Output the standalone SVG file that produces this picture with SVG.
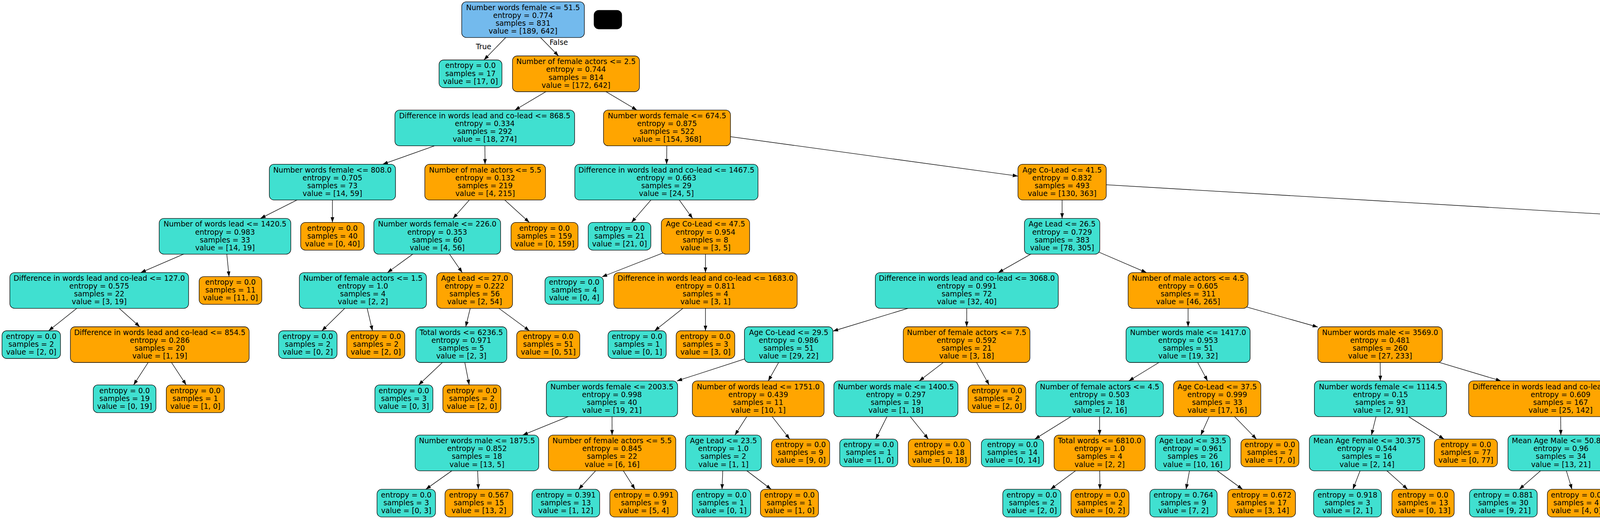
<svg xmlns="http://www.w3.org/2000/svg" width="6587" height="1329" viewBox="0 0 6587 1329">
<style>
text{font-family:"DejaVu Sans",sans-serif;font-size:18.67px;text-anchor:middle;fill:#000}
.n rect{stroke:#000;stroke-width:1.33;rx:12px;ry:12px}
.t rect{fill:#40e0d0}
.o rect{fill:#ffa500}
.b rect{fill:#73baed}
#edges line{stroke:#000;stroke-width:1.33;marker-end:url(#a)}
</style>
<defs>
<marker id="a" markerUnits="userSpaceOnUse" markerWidth="14" markerHeight="10" refX="13.3" refY="4.67" orient="auto"><path d="M0,0L13.3,4.67L0,9.33z" fill="#000"/></marker>
</defs>
<rect width="6587" height="1329" fill="#fff"/>
<g id="edges">
<line x1="1339" y1="50.3" x2="1238.9" y2="153.5"/>
<line x1="1339" y1="50.3" x2="1429.8" y2="143.25"/>
<line x1="1474.5" y1="189" x2="1318" y2="281.95"/>
<line x1="1474.5" y1="189" x2="1630.7" y2="281.95"/>
<line x1="1241" y1="327.7" x2="979.6" y2="420.65"/>
<line x1="1241" y1="327.7" x2="1241.7" y2="420.65"/>
<line x1="1707.5" y1="327.7" x2="1706.5" y2="420.65"/>
<line x1="1707.5" y1="327.7" x2="2606" y2="450.9"/>
<line x1="851" y1="466.4" x2="666.7" y2="559.35"/>
<line x1="851" y1="466.4" x2="851" y2="569.6"/>
<line x1="1242" y1="466.4" x2="1159.8" y2="559.35"/>
<line x1="1242" y1="466.4" x2="1355.1" y2="569.6"/>
<line x1="1706" y1="466.4" x2="1616.7" y2="569.6"/>
<line x1="1706" y1="466.4" x2="1773" y2="559.35"/>
<line x1="2719" y1="466.4" x2="2719" y2="559.35"/>
<line x1="2719" y1="466.4" x2="4966.7" y2="599.3"/>
<line x1="576" y1="605.1" x2="360.2" y2="698.05"/>
<line x1="576" y1="605.1" x2="586.4" y2="708.3"/>
<line x1="1119.3" y1="605.1" x2="991.8" y2="698.05"/>
<line x1="1119.3" y1="605.1" x2="1183.4" y2="698.05"/>
<line x1="1806" y1="605.1" x2="1541" y2="709"/>
<line x1="1806" y1="605.1" x2="1806" y2="698.05"/>
<line x1="2719" y1="605.1" x2="2555.5" y2="698.05"/>
<line x1="2719" y1="605.1" x2="2935.1" y2="698.05"/>
<line x1="5064" y1="605.1" x2="5064" y2="698.05"/>
<line x1="5064" y1="605.1" x2="5334.1" y2="698.05"/>
<line x1="254" y1="743.8" x2="124.5" y2="847"/>
<line x1="254" y1="743.8" x2="357.9" y2="836.75"/>
<line x1="929" y1="743.8" x2="824.1" y2="847"/>
<line x1="929" y1="743.8" x2="953.6" y2="847"/>
<line x1="1215" y1="743.8" x2="1192.2" y2="836.75"/>
<line x1="1215" y1="743.8" x2="1355.3" y2="847"/>
<line x1="1806" y1="743.8" x2="1675.8" y2="847"/>
<line x1="1806" y1="743.8" x2="1806" y2="847"/>
<line x1="2475" y1="743.8" x2="2132.3" y2="848"/>
<line x1="2475" y1="743.8" x2="2474.7" y2="836.75"/>
<line x1="3041.5" y1="743.8" x2="3041.5" y2="836.75"/>
<line x1="3041.5" y1="743.8" x2="3373.6" y2="837.5"/>
<line x1="5064" y1="743.8" x2="4994" y2="836.75"/>
<line x1="5064" y1="743.8" x2="5174.4" y2="836.75"/>
<line x1="5467" y1="743.8" x2="5467.4" y2="847"/>
<line x1="5467" y1="743.8" x2="5674.1" y2="836.75"/>
<line x1="409" y1="882.5" x2="342" y2="985.7"/>
<line x1="409" y1="882.5" x2="476.7" y2="985.7"/>
<line x1="1181" y1="882.5" x2="1071.6" y2="985.7"/>
<line x1="1181" y1="882.5" x2="1201.1" y2="985.7"/>
<line x1="2019" y1="882.5" x2="1733" y2="975.45"/>
<line x1="2019" y1="882.5" x2="1966.7" y2="975.45"/>
<line x1="2474.5" y1="882.5" x2="2353.2" y2="975.45"/>
<line x1="2474.5" y1="882.5" x2="2532.2" y2="985.7"/>
<line x1="3041.5" y1="882.5" x2="2889.7" y2="975.45"/>
<line x1="3041.5" y1="882.5" x2="3091.4" y2="975.45"/>
<line x1="3533" y1="882.5" x2="3533.7" y2="975.45"/>
<line x1="3533" y1="882.5" x2="3842.6" y2="975.45"/>
<line x1="4959.5" y1="882.5" x2="4776.75" y2="977.5"/>
<line x1="4959.5" y1="882.5" x2="4960.5" y2="975.45"/>
<line x1="5228.7" y1="882.5" x2="5227.4" y2="985.7"/>
<line x1="5228.7" y1="882.5" x2="5411.9" y2="975.45"/>
<line x1="5776" y1="882.5" x2="5776" y2="985.7"/>
<line x1="5776" y1="882.5" x2="5905.3" y2="975.45"/>
<line x1="1566.6" y1="1021.2" x2="1338" y2="1114.15"/>
<line x1="1566.6" y1="1021.2" x2="1566.9" y2="1114.15"/>
<line x1="1941" y1="1021.2" x2="1881.4" y2="1114.15"/>
<line x1="1941" y1="1021.2" x2="2021.7" y2="1124.4"/>
<line x1="2293.5" y1="1021.2" x2="2241.8" y2="1124.4"/>
<line x1="2293.5" y1="1021.2" x2="2376.5" y2="1124.4"/>
<line x1="2815" y1="1021.2" x2="2649.1" y2="1124.4"/>
<line x1="2815" y1="1021.2" x2="2815" y2="1114.15"/>
<line x1="3116" y1="1021.2" x2="3074.1" y2="1114.15"/>
<line x1="3116" y1="1021.2" x2="3216.5" y2="1124.4"/>
<line x1="3534" y1="1021.2" x2="3510.9" y2="1114.15"/>
<line x1="3534" y1="1021.2" x2="3696.7" y2="1124.4"/>
<line x1="3995" y1="1021.2" x2="3995.7" y2="1114.15"/>
<line x1="3995" y1="1021.2" x2="4212.1" y2="1114.15"/>
<line x1="4692.7" y1="1021.2" x2="4609.6" y2="1124.4"/>
<line x1="4692.7" y1="1021.2" x2="4743.2" y2="1114.15"/>
<line x1="4961" y1="1021.2" x2="4960.3" y2="1124.4"/>
<line x1="4961" y1="1021.2" x2="5096.4" y2="1124.4"/>
<line x1="5502" y1="1021.2" x2="5406.2" y2="1114.15"/>
<line x1="5502" y1="1021.2" x2="5546.7" y2="1114.15"/>
<line x1="5969" y1="1021.2" x2="5956.7" y2="1114.15"/>
<line x1="5969" y1="1021.2" x2="6230.4" y2="1114.15"/>
<line x1="1221" y1="1159.9" x2="1090" y2="1252.9"/>
<line x1="1221" y1="1159.9" x2="1224.6" y2="1252.9"/>
<line x1="1567" y1="1159.9" x2="1481.2" y2="1252.9"/>
<line x1="1567" y1="1159.9" x2="1625.6" y2="1252.9"/>
<line x1="1852" y1="1159.9" x2="1848.4" y2="1252.9"/>
<line x1="1852" y1="1159.9" x2="1974.3" y2="1252.9"/>
<line x1="2815" y1="1159.9" x2="2689.4" y2="1252.9"/>
<line x1="2815" y1="1159.9" x2="2815.7" y2="1252.9"/>
<line x1="3053.5" y1="1159.9" x2="3036.3" y2="1252.9"/>
<line x1="3053.5" y1="1159.9" x2="3181" y2="1252.9"/>
<line x1="3499.5" y1="1159.9" x2="3463.4" y2="1252.9"/>
<line x1="3499.5" y1="1159.9" x2="3603.4" y2="1252.9"/>
<line x1="3996" y1="1159.9" x2="3889.3" y2="1252.9"/>
<line x1="3996" y1="1159.9" x2="4024.2" y2="1252.9"/>
<line x1="4319" y1="1159.9" x2="4248.4" y2="1252.9"/>
<line x1="4319" y1="1159.9" x2="4388.1" y2="1252.9"/>
<line x1="4768" y1="1159.9" x2="4654.4" y2="1252.9"/>
<line x1="4768" y1="1159.9" x2="4785.4" y2="1252.9"/>
<line x1="5359" y1="1159.9" x2="5234.5" y2="1252.9"/>
<line x1="5359" y1="1159.9" x2="5369.1" y2="1252.9"/>
<line x1="5568.7" y1="1159.9" x2="5556.6" y2="1252.9"/>
<line x1="5568.7" y1="1159.9" x2="5691.9" y2="1252.9"/>
<line x1="5950.6" y1="1159.9" x2="5932.8" y2="1252.9"/>
<line x1="5950.6" y1="1159.9" x2="6063.8" y2="1252.9"/>
<line x1="6359" y1="1159.9" x2="6329.3" y2="1252.9"/>
<line x1="6359" y1="1159.9" x2="6463.9" y2="1252.9"/>
<text x="1238" y="126">True</text>
<text x="1430.5" y="114.5">False</text>
</g>
<g id="nodes">
<g id="n0" class="n b" transform="translate(1339 50.3)"><rect x="-157" y="-45.75" width="314" height="91.5"/><text><tspan x="0" y="-24.65">Number words female &lt;= 51.5</tspan><tspan x="0" y="-4.55">entropy = 0.774</tspan><tspan x="0" y="15.55">samples = 831</tspan><tspan x="0" y="35.65">value = [189, 642]</tspan></text></g>
<g id="blank"><rect x="1520.6" y="26.3" width="71.2" height="48" rx="12" fill="#000" stroke="#000"/></g>
<g id="n1" class="n t" transform="translate(1204.5 189)"><rect x="-80.5" y="-35.5" width="161" height="71"/><text><tspan x="0" y="-14.6">entropy = 0.0</tspan><tspan x="0" y="5.5">samples = 17</tspan><tspan x="0" y="25.6">value = [17, 0]</tspan></text></g>
<g id="n2" class="n o" transform="translate(1474.5 189)"><rect x="-162.5" y="-45.75" width="325" height="91.5"/><text><tspan x="0" y="-24.65">Number of female actors &lt;= 2.5</tspan><tspan x="0" y="-4.55">entropy = 0.744</tspan><tspan x="0" y="15.55">samples = 814</tspan><tspan x="0" y="35.65">value = [172, 642]</tspan></text></g>
<g id="n3" class="n t" transform="translate(1241 327.7)"><rect x="-230" y="-45.75" width="460" height="91.5"/><text><tspan x="0" y="-24.65">Difference in words lead and co-lead &lt;= 868.5</tspan><tspan x="0" y="-4.55">entropy = 0.334</tspan><tspan x="0" y="15.55">samples = 292</tspan><tspan x="0" y="35.65">value = [18, 274]</tspan></text></g>
<g id="n4" class="n o" transform="translate(1707.5 327.7)"><rect x="-162.5" y="-45.75" width="325" height="91.5"/><text><tspan x="0" y="-24.65">Number words female &lt;= 674.5</tspan><tspan x="0" y="-4.55">entropy = 0.875</tspan><tspan x="0" y="15.55">samples = 522</tspan><tspan x="0" y="35.65">value = [154, 368]</tspan></text></g>
<g id="n5" class="n t" transform="translate(851 466.4)"><rect x="-161.5" y="-45.75" width="323" height="91.5"/><text><tspan x="0" y="-24.65">Number words female &lt;= 808.0</tspan><tspan x="0" y="-4.55">entropy = 0.705</tspan><tspan x="0" y="15.55">samples = 73</tspan><tspan x="0" y="35.65">value = [14, 59]</tspan></text></g>
<g id="n6" class="n o" transform="translate(1242 466.4)"><rect x="-154.5" y="-45.75" width="309" height="91.5"/><text><tspan x="0" y="-24.65">Number of male actors &lt;= 5.5</tspan><tspan x="0" y="-4.55">entropy = 0.132</tspan><tspan x="0" y="15.55">samples = 219</tspan><tspan x="0" y="35.65">value = [4, 215]</tspan></text></g>
<g id="n7" class="n t" transform="translate(1706 466.4)"><rect x="-234.5" y="-45.75" width="469" height="91.5"/><text><tspan x="0" y="-24.65">Difference in words lead and co-lead &lt;= 1467.5</tspan><tspan x="0" y="-4.55">entropy = 0.663</tspan><tspan x="0" y="15.55">samples = 29</tspan><tspan x="0" y="35.65">value = [24, 5]</tspan></text></g>
<g id="n8" class="n o" transform="translate(2719 466.4)"><rect x="-113" y="-45.75" width="226" height="91.5"/><text><tspan x="0" y="-24.65">Age Co-Lead &lt;= 41.5</tspan><tspan x="0" y="-4.55">entropy = 0.832</tspan><tspan x="0" y="15.55">samples = 493</tspan><tspan x="0" y="35.65">value = [130, 363]</tspan></text></g>
<g id="n9" class="n t" transform="translate(576 605.1)"><rect x="-168.5" y="-45.75" width="337" height="91.5"/><text><tspan x="0" y="-24.65">Number of words lead &lt;= 1420.5</tspan><tspan x="0" y="-4.55">entropy = 0.983</tspan><tspan x="0" y="15.55">samples = 33</tspan><tspan x="0" y="35.65">value = [14, 19]</tspan></text></g>
<g id="n10" class="n o" transform="translate(851 605.1)"><rect x="-81.3" y="-35.5" width="162.6" height="71"/><text><tspan x="0" y="-14.6">entropy = 0.0</tspan><tspan x="0" y="5.5">samples = 40</tspan><tspan x="0" y="25.6">value = [0, 40]</tspan></text></g>
<g id="n11" class="n t" transform="translate(1119.3 605.1)"><rect x="-162.25" y="-45.75" width="324.5" height="91.5"/><text><tspan x="0" y="-24.65">Number words female &lt;= 226.0</tspan><tspan x="0" y="-4.55">entropy = 0.353</tspan><tspan x="0" y="15.55">samples = 60</tspan><tspan x="0" y="35.65">value = [4, 56]</tspan></text></g>
<g id="n12" class="n o" transform="translate(1394 605.1)"><rect x="-85.7" y="-35.5" width="171.4" height="71"/><text><tspan x="0" y="-14.6">entropy = 0.0</tspan><tspan x="0" y="5.5">samples = 159</tspan><tspan x="0" y="25.6">value = [0, 159]</tspan></text></g>
<g id="n13" class="n t" transform="translate(1586 605.1)"><rect x="-80.2" y="-35.5" width="160.4" height="71"/><text><tspan x="0" y="-14.6">entropy = 0.0</tspan><tspan x="0" y="5.5">samples = 21</tspan><tspan x="0" y="25.6">value = [21, 0]</tspan></text></g>
<g id="n14" class="n o" transform="translate(1806 605.1)"><rect x="-113" y="-45.75" width="226" height="91.5"/><text><tspan x="0" y="-24.65">Age Co-Lead &lt;= 47.5</tspan><tspan x="0" y="-4.55">entropy = 0.954</tspan><tspan x="0" y="15.55">samples = 8</tspan><tspan x="0" y="35.65">value = [3, 5]</tspan></text></g>
<g id="n15" class="n t" transform="translate(2719 605.1)"><rect x="-96.5" y="-45.75" width="193" height="91.5"/><text><tspan x="0" y="-24.65">Age Lead &lt;= 26.5</tspan><tspan x="0" y="-4.55">entropy = 0.729</tspan><tspan x="0" y="15.55">samples = 383</tspan><tspan x="0" y="35.65">value = [78, 305]</tspan></text></g>
<g id="n16" class="n o" transform="translate(5064 605.1)"><rect x="-97.35" y="-45.75" width="194.7" height="91.5"/><text><tspan x="0" y="-24.65">Age Lead &lt;= 51.5</tspan><tspan x="0" y="-4.55">entropy = 0.998</tspan><tspan x="0" y="15.55">samples = 110</tspan><tspan x="0" y="35.65">value = [52, 58]</tspan></text></g>
<g id="n17" class="n t" transform="translate(254 743.8)"><rect x="-228.75" y="-45.75" width="457.5" height="91.5"/><text><tspan x="0" y="-24.65">Difference in words lead and co-lead &lt;= 127.0</tspan><tspan x="0" y="-4.55">entropy = 0.575</tspan><tspan x="0" y="15.55">samples = 22</tspan><tspan x="0" y="35.65">value = [3, 19]</tspan></text></g>
<g id="n18" class="n o" transform="translate(590 743.8)"><rect x="-80.2" y="-35.5" width="160.4" height="71"/><text><tspan x="0" y="-14.6">entropy = 0.0</tspan><tspan x="0" y="5.5">samples = 11</tspan><tspan x="0" y="25.6">value = [11, 0]</tspan></text></g>
<g id="n19" class="n t" transform="translate(929 743.8)"><rect x="-162.65" y="-45.75" width="325.3" height="91.5"/><text><tspan x="0" y="-24.65">Number of female actors &lt;= 1.5</tspan><tspan x="0" y="-4.55">entropy = 1.0</tspan><tspan x="0" y="15.55">samples = 4</tspan><tspan x="0" y="35.65">value = [2, 2]</tspan></text></g>
<g id="n20" class="n o" transform="translate(1215 743.8)"><rect x="-97" y="-45.75" width="194" height="91.5"/><text><tspan x="0" y="-24.65">Age Lead &lt;= 27.0</tspan><tspan x="0" y="-4.55">entropy = 0.222</tspan><tspan x="0" y="15.55">samples = 56</tspan><tspan x="0" y="35.65">value = [2, 54]</tspan></text></g>
<g id="n21" class="n t" transform="translate(1470 743.8)"><rect x="-74.8" y="-35.5" width="149.6" height="71"/><text><tspan x="0" y="-14.6">entropy = 0.0</tspan><tspan x="0" y="5.5">samples = 4</tspan><tspan x="0" y="25.6">value = [0, 4]</tspan></text></g>
<g id="n22" class="n o" transform="translate(1806 743.8)"><rect x="-234.65" y="-45.75" width="469.3" height="91.5"/><text><tspan x="0" y="-24.65">Difference in words lead and co-lead &lt;= 1683.0</tspan><tspan x="0" y="-4.55">entropy = 0.811</tspan><tspan x="0" y="15.55">samples = 4</tspan><tspan x="0" y="35.65">value = [3, 1]</tspan></text></g>
<g id="n23" class="n t" transform="translate(2475 743.8)"><rect x="-234.2" y="-45.75" width="468.4" height="91.5"/><text><tspan x="0" y="-24.65">Difference in words lead and co-lead &lt;= 3068.0</tspan><tspan x="0" y="-4.55">entropy = 0.991</tspan><tspan x="0" y="15.55">samples = 72</tspan><tspan x="0" y="35.65">value = [32, 40]</tspan></text></g>
<g id="n24" class="n o" transform="translate(3041.5 743.8)"><rect x="-153.5" y="-45.75" width="307" height="91.5"/><text><tspan x="0" y="-24.65">Number of male actors &lt;= 4.5</tspan><tspan x="0" y="-4.55">entropy = 0.605</tspan><tspan x="0" y="15.55">samples = 311</tspan><tspan x="0" y="35.65">value = [46, 265]</tspan></text></g>
<g id="n25" class="n t" transform="translate(5064 743.8)"><rect x="-137.2" y="-45.75" width="274.4" height="91.5"/><text><tspan x="0" y="-24.65">Mean Age Male &lt;= 40.575</tspan><tspan x="0" y="-4.55">entropy = 0.978</tspan><tspan x="0" y="15.55">samples = 75</tspan><tspan x="0" y="35.65">value = [44, 31]</tspan></text></g>
<g id="n26" class="n o" transform="translate(5467 743.8)"><rect x="-135.6" y="-45.75" width="271.2" height="91.5"/><text><tspan x="0" y="-24.65">Mean Age Male &lt;= 38.987</tspan><tspan x="0" y="-4.55">entropy = 0.776</tspan><tspan x="0" y="15.55">samples = 35</tspan><tspan x="0" y="35.65">value = [8, 27]</tspan></text></g>
<g id="n27" class="n t" transform="translate(80 882.5)"><rect x="-74.8" y="-35.5" width="149.6" height="71"/><text><tspan x="0" y="-14.6">entropy = 0.0</tspan><tspan x="0" y="5.5">samples = 2</tspan><tspan x="0" y="25.6">value = [2, 0]</tspan></text></g>
<g id="n28" class="n o" transform="translate(409 882.5)"><rect x="-228.75" y="-45.75" width="457.5" height="91.5"/><text><tspan x="0" y="-24.65">Difference in words lead and co-lead &lt;= 854.5</tspan><tspan x="0" y="-4.55">entropy = 0.286</tspan><tspan x="0" y="15.55">samples = 20</tspan><tspan x="0" y="35.65">value = [1, 19]</tspan></text></g>
<g id="n29" class="n t" transform="translate(788 882.5)"><rect x="-74.8" y="-35.5" width="149.6" height="71"/><text><tspan x="0" y="-14.6">entropy = 0.0</tspan><tspan x="0" y="5.5">samples = 2</tspan><tspan x="0" y="25.6">value = [0, 2]</tspan></text></g>
<g id="n30" class="n o" transform="translate(962 882.5)"><rect x="-74.25" y="-35.5" width="148.5" height="71"/><text><tspan x="0" y="-14.6">entropy = 0.0</tspan><tspan x="0" y="5.5">samples = 2</tspan><tspan x="0" y="25.6">value = [2, 0]</tspan></text></g>
<g id="n31" class="n t" transform="translate(1181 882.5)"><rect x="-116.5" y="-45.75" width="233" height="91.5"/><text><tspan x="0" y="-24.65">Total words &lt;= 6236.5</tspan><tspan x="0" y="-4.55">entropy = 0.971</tspan><tspan x="0" y="15.55">samples = 5</tspan><tspan x="0" y="35.65">value = [2, 3]</tspan></text></g>
<g id="n32" class="n o" transform="translate(1403.5 882.5)"><rect x="-80.8" y="-35.5" width="161.6" height="71"/><text><tspan x="0" y="-14.6">entropy = 0.0</tspan><tspan x="0" y="5.5">samples = 51</tspan><tspan x="0" y="25.6">value = [0, 51]</tspan></text></g>
<g id="n33" class="n t" transform="translate(1631 882.5)"><rect x="-74.5" y="-35.5" width="149" height="71"/><text><tspan x="0" y="-14.6">entropy = 0.0</tspan><tspan x="0" y="5.5">samples = 1</tspan><tspan x="0" y="25.6">value = [0, 1]</tspan></text></g>
<g id="n34" class="n o" transform="translate(1806 882.5)"><rect x="-75" y="-35.5" width="150" height="71"/><text><tspan x="0" y="-14.6">entropy = 0.0</tspan><tspan x="0" y="5.5">samples = 3</tspan><tspan x="0" y="25.6">value = [3, 0]</tspan></text></g>
<g id="n35" class="n t" transform="translate(2019 882.5)"><rect x="-113.3" y="-45.75" width="226.6" height="91.5"/><text><tspan x="0" y="-24.65">Age Co-Lead &lt;= 29.5</tspan><tspan x="0" y="-4.55">entropy = 0.986</tspan><tspan x="0" y="15.55">samples = 51</tspan><tspan x="0" y="35.65">value = [29, 22]</tspan></text></g>
<g id="n36" class="n o" transform="translate(2474.5 882.5)"><rect x="-162.1" y="-45.75" width="324.2" height="91.5"/><text><tspan x="0" y="-24.65">Number of female actors &lt;= 7.5</tspan><tspan x="0" y="-4.55">entropy = 0.592</tspan><tspan x="0" y="15.55">samples = 21</tspan><tspan x="0" y="35.65">value = [3, 18]</tspan></text></g>
<g id="n37" class="n t" transform="translate(3041.5 882.5)"><rect x="-158.85" y="-45.75" width="317.7" height="91.5"/><text><tspan x="0" y="-24.65">Number words male &lt;= 1417.0</tspan><tspan x="0" y="-4.55">entropy = 0.953</tspan><tspan x="0" y="15.55">samples = 51</tspan><tspan x="0" y="35.65">value = [19, 32]</tspan></text></g>
<g id="n38" class="n o" transform="translate(3533 882.5)"><rect x="-159.4" y="-45.75" width="318.8" height="91.5"/><text><tspan x="0" y="-24.65">Number words male &lt;= 3569.0</tspan><tspan x="0" y="-4.55">entropy = 0.481</tspan><tspan x="0" y="15.55">samples = 260</tspan><tspan x="0" y="35.65">value = [27, 233]</tspan></text></g>
<g id="n39" class="n t" transform="translate(4959.5 882.5)"><rect x="-147" y="-45.75" width="294" height="91.5"/><text><tspan x="0" y="-24.65">Mean Age Female &lt;= 38.542</tspan><tspan x="0" y="-4.55">entropy = 0.904</tspan><tspan x="0" y="15.55">samples = 25</tspan><tspan x="0" y="35.65">value = [8, 17]</tspan></text></g>
<g id="n40" class="n o" transform="translate(5228.7 882.5)"><rect x="-96.3" y="-45.75" width="192.6" height="91.5"/><text><tspan x="0" y="-24.65">Age Lead &lt;= 33.5</tspan><tspan x="0" y="-4.55">entropy = 0.855</tspan><tspan x="0" y="15.55">samples = 50</tspan><tspan x="0" y="35.65">value = [36, 14]</tspan></text></g>
<g id="n41" class="n t" transform="translate(5467.5 882.5)"><rect x="-74.75" y="-35.5" width="149.5" height="71"/><text><tspan x="0" y="-14.6">entropy = 0.0</tspan><tspan x="0" y="5.5">samples = 2</tspan><tspan x="0" y="25.6">value = [2, 0]</tspan></text></g>
<g id="n42" class="n o" transform="translate(5776 882.5)"><rect x="-167.8" y="-45.75" width="335.6" height="91.5"/><text><tspan x="0" y="-24.65">Number of words lead &lt;= 3766.5</tspan><tspan x="0" y="-4.55">entropy = 0.684</tspan><tspan x="0" y="15.55">samples = 33</tspan><tspan x="0" y="35.65">value = [6, 27]</tspan></text></g>
<g id="n43" class="n t" transform="translate(319 1021.2)"><rect x="-80.25" y="-35.5" width="160.5" height="71"/><text><tspan x="0" y="-14.6">entropy = 0.0</tspan><tspan x="0" y="5.5">samples = 19</tspan><tspan x="0" y="25.6">value = [0, 19]</tspan></text></g>
<g id="n44" class="n o" transform="translate(500 1021.2)"><rect x="-74.3" y="-35.5" width="148.6" height="71"/><text><tspan x="0" y="-14.6">entropy = 0.0</tspan><tspan x="0" y="5.5">samples = 1</tspan><tspan x="0" y="25.6">value = [1, 0]</tspan></text></g>
<g id="n45" class="n t" transform="translate(1034 1021.2)"><rect x="-74.25" y="-35.5" width="148.5" height="71"/><text><tspan x="0" y="-14.6">entropy = 0.0</tspan><tspan x="0" y="5.5">samples = 3</tspan><tspan x="0" y="25.6">value = [0, 3]</tspan></text></g>
<g id="n46" class="n o" transform="translate(1208 1021.2)"><rect x="-74.3" y="-35.5" width="148.6" height="71"/><text><tspan x="0" y="-14.6">entropy = 0.0</tspan><tspan x="0" y="5.5">samples = 2</tspan><tspan x="0" y="25.6">value = [2, 0]</tspan></text></g>
<g id="n47" class="n t" transform="translate(1566.6 1021.2)"><rect x="-168" y="-45.75" width="336" height="91.5"/><text><tspan x="0" y="-24.65">Number words female &lt;= 2003.5</tspan><tspan x="0" y="-4.55">entropy = 0.998</tspan><tspan x="0" y="15.55">samples = 40</tspan><tspan x="0" y="35.65">value = [19, 21]</tspan></text></g>
<g id="n48" class="n o" transform="translate(1941 1021.2)"><rect x="-168.6" y="-45.75" width="337.2" height="91.5"/><text><tspan x="0" y="-24.65">Number of words lead &lt;= 1751.0</tspan><tspan x="0" y="-4.55">entropy = 0.439</tspan><tspan x="0" y="15.55">samples = 11</tspan><tspan x="0" y="35.65">value = [10, 1]</tspan></text></g>
<g id="n49" class="n t" transform="translate(2293.5 1021.2)"><rect x="-158.85" y="-45.75" width="317.7" height="91.5"/><text><tspan x="0" y="-24.65">Number words male &lt;= 1400.5</tspan><tspan x="0" y="-4.55">entropy = 0.297</tspan><tspan x="0" y="15.55">samples = 19</tspan><tspan x="0" y="35.65">value = [1, 18]</tspan></text></g>
<g id="n50" class="n o" transform="translate(2552 1021.2)"><rect x="-73.75" y="-35.5" width="147.5" height="71"/><text><tspan x="0" y="-14.6">entropy = 0.0</tspan><tspan x="0" y="5.5">samples = 2</tspan><tspan x="0" y="25.6">value = [2, 0]</tspan></text></g>
<g id="n51" class="n t" transform="translate(2815 1021.2)"><rect x="-163.15" y="-45.75" width="326.3" height="91.5"/><text><tspan x="0" y="-24.65">Number of female actors &lt;= 4.5</tspan><tspan x="0" y="-4.55">entropy = 0.503</tspan><tspan x="0" y="15.55">samples = 18</tspan><tspan x="0" y="35.65">value = [2, 16]</tspan></text></g>
<g id="n52" class="n o" transform="translate(3116 1021.2)"><rect x="-111.65" y="-45.75" width="223.3" height="91.5"/><text><tspan x="0" y="-24.65">Age Co-Lead &lt;= 37.5</tspan><tspan x="0" y="-4.55">entropy = 0.999</tspan><tspan x="0" y="15.55">samples = 33</tspan><tspan x="0" y="35.65">value = [17, 16]</tspan></text></g>
<g id="n53" class="n t" transform="translate(3534 1021.2)"><rect x="-169.15" y="-45.75" width="338.3" height="91.5"/><text><tspan x="0" y="-24.65">Number words female &lt;= 1114.5</tspan><tspan x="0" y="-4.55">entropy = 0.15</tspan><tspan x="0" y="15.55">samples = 93</tspan><tspan x="0" y="35.65">value = [2, 91]</tspan></text></g>
<g id="n54" class="n o" transform="translate(3995 1021.2)"><rect x="-235.25" y="-45.75" width="470.5" height="91.5"/><text><tspan x="0" y="-24.65">Difference in words lead and co-lead &lt;= 1243.5</tspan><tspan x="0" y="-4.55">entropy = 0.609</tspan><tspan x="0" y="15.55">samples = 167</tspan><tspan x="0" y="35.65">value = [25, 142]</tspan></text></g>
<g id="n55" class="n t" transform="translate(4692.7 1021.2)"><rect x="-84.05" y="-45.75" width="168.1" height="91.5"/><text><tspan x="0" y="-24.65">Year &lt;= 1999.5</tspan><tspan x="0" y="-4.55">entropy = 0.98</tspan><tspan x="0" y="15.55">samples = 12</tspan><tspan x="0" y="35.65">value = [7, 5]</tspan></text></g>
<g id="n56" class="n o" transform="translate(4961 1021.2)"><rect x="-159.5" y="-45.75" width="319" height="91.5"/><text><tspan x="0" y="-24.65">Number words male &lt;= 8629.5</tspan><tspan x="0" y="-4.55">entropy = 0.391</tspan><tspan x="0" y="15.55">samples = 13</tspan><tspan x="0" y="35.65">value = [1, 12]</tspan></text></g>
<g id="n57" class="n t" transform="translate(5227 1021.2)"><rect x="-79.6" y="-35.5" width="159.2" height="71"/><text><tspan x="0" y="-14.6">entropy = 0.0</tspan><tspan x="0" y="5.5">samples = 17</tspan><tspan x="0" y="25.6">value = [17, 0]</tspan></text></g>
<g id="n58" class="n o" transform="translate(5502 1021.2)"><rect x="-168.35" y="-45.75" width="336.7" height="91.5"/><text><tspan x="0" y="-24.65">Number of words lead &lt;= 5122.0</tspan><tspan x="0" y="-4.55">entropy = 0.983</tspan><tspan x="0" y="15.55">samples = 33</tspan><tspan x="0" y="35.65">value = [19, 14]</tspan></text></g>
<g id="n59" class="n t" transform="translate(5776 1021.2)"><rect x="-80.25" y="-35.5" width="160.5" height="71"/><text><tspan x="0" y="-14.6">entropy = 0.0</tspan><tspan x="0" y="5.5">samples = 12</tspan><tspan x="0" y="25.6">value = [0, 12]</tspan></text></g>
<g id="n60" class="n o" transform="translate(5969 1021.2)"><rect x="-85.5" y="-45.75" width="171" height="91.5"/><text><tspan x="0" y="-24.65">Year &lt;= 2008.5</tspan><tspan x="0" y="-4.55">entropy = 0.863</tspan><tspan x="0" y="15.55">samples = 21</tspan><tspan x="0" y="35.65">value = [6, 15]</tspan></text></g>
<g id="n61" class="n t" transform="translate(1221 1159.9)"><rect x="-158.25" y="-45.75" width="316.5" height="91.5"/><text><tspan x="0" y="-24.65">Number words male &lt;= 1875.5</tspan><tspan x="0" y="-4.55">entropy = 0.852</tspan><tspan x="0" y="15.55">samples = 18</tspan><tspan x="0" y="35.65">value = [13, 5]</tspan></text></g>
<g id="n62" class="n o" transform="translate(1567 1159.9)"><rect x="-163" y="-45.75" width="326" height="91.5"/><text><tspan x="0" y="-24.65">Number of female actors &lt;= 5.5</tspan><tspan x="0" y="-4.55">entropy = 0.845</tspan><tspan x="0" y="15.55">samples = 22</tspan><tspan x="0" y="35.65">value = [6, 16]</tspan></text></g>
<g id="n63" class="n t" transform="translate(1852 1159.9)"><rect x="-97" y="-45.75" width="194" height="91.5"/><text><tspan x="0" y="-24.65">Age Lead &lt;= 23.5</tspan><tspan x="0" y="-4.55">entropy = 1.0</tspan><tspan x="0" y="15.55">samples = 2</tspan><tspan x="0" y="35.65">value = [1, 1]</tspan></text></g>
<g id="n64" class="n o" transform="translate(2049.5 1159.9)"><rect x="-74.4" y="-35.5" width="148.8" height="71"/><text><tspan x="0" y="-14.6">entropy = 0.0</tspan><tspan x="0" y="5.5">samples = 9</tspan><tspan x="0" y="25.6">value = [9, 0]</tspan></text></g>
<g id="n65" class="n t" transform="translate(2224 1159.9)"><rect x="-74.3" y="-35.5" width="148.6" height="71"/><text><tspan x="0" y="-14.6">entropy = 0.0</tspan><tspan x="0" y="5.5">samples = 1</tspan><tspan x="0" y="25.6">value = [1, 0]</tspan></text></g>
<g id="n66" class="n o" transform="translate(2405 1159.9)"><rect x="-79.65" y="-35.5" width="159.3" height="71"/><text><tspan x="0" y="-14.6">entropy = 0.0</tspan><tspan x="0" y="5.5">samples = 18</tspan><tspan x="0" y="25.6">value = [0, 18]</tspan></text></g>
<g id="n67" class="n t" transform="translate(2592 1159.9)"><rect x="-79.65" y="-35.5" width="159.3" height="71"/><text><tspan x="0" y="-14.6">entropy = 0.0</tspan><tspan x="0" y="5.5">samples = 14</tspan><tspan x="0" y="25.6">value = [0, 14]</tspan></text></g>
<g id="n68" class="n o" transform="translate(2815 1159.9)"><rect x="-116.5" y="-45.75" width="233" height="91.5"/><text><tspan x="0" y="-24.65">Total words &lt;= 6810.0</tspan><tspan x="0" y="-4.55">entropy = 1.0</tspan><tspan x="0" y="15.55">samples = 4</tspan><tspan x="0" y="35.65">value = [2, 2]</tspan></text></g>
<g id="n69" class="n t" transform="translate(3053.5 1159.9)"><rect x="-96" y="-45.75" width="192" height="91.5"/><text><tspan x="0" y="-24.65">Age Lead &lt;= 33.5</tspan><tspan x="0" y="-4.55">entropy = 0.961</tspan><tspan x="0" y="15.55">samples = 26</tspan><tspan x="0" y="35.65">value = [10, 16]</tspan></text></g>
<g id="n70" class="n o" transform="translate(3251 1159.9)"><rect x="-74.2" y="-35.5" width="148.4" height="71"/><text><tspan x="0" y="-14.6">entropy = 0.0</tspan><tspan x="0" y="5.5">samples = 7</tspan><tspan x="0" y="25.6">value = [7, 0]</tspan></text></g>
<g id="n71" class="n t" transform="translate(3499.5 1159.9)"><rect x="-147.5" y="-45.75" width="295" height="91.5"/><text><tspan x="0" y="-24.65">Mean Age Female &lt;= 30.375</tspan><tspan x="0" y="-4.55">entropy = 0.544</tspan><tspan x="0" y="15.55">samples = 16</tspan><tspan x="0" y="35.65">value = [2, 14]</tspan></text></g>
<g id="n72" class="n o" transform="translate(3752.6 1159.9)"><rect x="-80.75" y="-35.5" width="161.5" height="71"/><text><tspan x="0" y="-14.6">entropy = 0.0</tspan><tspan x="0" y="5.5">samples = 77</tspan><tspan x="0" y="25.6">value = [0, 77]</tspan></text></g>
<g id="n73" class="n t" transform="translate(3996 1159.9)"><rect x="-135.55" y="-45.75" width="271.1" height="91.5"/><text><tspan x="0" y="-24.65">Mean Age Male &lt;= 50.867</tspan><tspan x="0" y="-4.55">entropy = 0.96</tspan><tspan x="0" y="15.55">samples = 34</tspan><tspan x="0" y="35.65">value = [13, 21]</tspan></text></g>
<g id="n74" class="n o" transform="translate(4319 1159.9)"><rect x="-162.65" y="-45.75" width="325.3" height="91.5"/><text><tspan x="0" y="-24.65">Number of female actors &lt;= 3.5</tspan><tspan x="0" y="-4.55">entropy = 0.437</tspan><tspan x="0" y="15.55">samples = 133</tspan><tspan x="0" y="35.65">value = [12, 121]</tspan></text></g>
<g id="n75" class="n t" transform="translate(4581 1159.9)"><rect x="-74.3" y="-35.5" width="148.6" height="71"/><text><tspan x="0" y="-14.6">entropy = 0.0</tspan><tspan x="0" y="5.5">samples = 4</tspan><tspan x="0" y="25.6">value = [4, 0]</tspan></text></g>
<g id="n76" class="n o" transform="translate(4768 1159.9)"><rect x="-85.65" y="-45.75" width="171.3" height="91.5"/><text><tspan x="0" y="-24.65">Gross &lt;= 104.5</tspan><tspan x="0" y="-4.55">entropy = 0.954</tspan><tspan x="0" y="15.55">samples = 8</tspan><tspan x="0" y="35.65">value = [3, 5]</tspan></text></g>
<g id="n77" class="n t" transform="translate(4960 1159.9)"><rect x="-79.5" y="-35.5" width="159" height="71"/><text><tspan x="0" y="-14.6">entropy = 0.0</tspan><tspan x="0" y="5.5">samples = 12</tspan><tspan x="0" y="25.6">value = [0, 12]</tspan></text></g>
<g id="n78" class="n o" transform="translate(5143 1159.9)"><rect x="-74.2" y="-35.5" width="148.4" height="71"/><text><tspan x="0" y="-14.6">entropy = 0.0</tspan><tspan x="0" y="5.5">samples = 1</tspan><tspan x="0" y="25.6">value = [1, 0]</tspan></text></g>
<g id="n79" class="n t" transform="translate(5359 1159.9)"><rect x="-96.3" y="-45.75" width="192.6" height="91.5"/><text><tspan x="0" y="-24.65">Age Lead &lt;= 43.5</tspan><tspan x="0" y="-4.55">entropy = 0.871</tspan><tspan x="0" y="15.55">samples = 24</tspan><tspan x="0" y="35.65">value = [17, 7]</tspan></text></g>
<g id="n80" class="n o" transform="translate(5568.7 1159.9)"><rect x="-86.65" y="-45.75" width="173.3" height="91.5"/><text><tspan x="0" y="-24.65">Gross &lt;= 165.0</tspan><tspan x="0" y="-4.55">entropy = 0.764</tspan><tspan x="0" y="15.55">samples = 9</tspan><tspan x="0" y="35.65">value = [2, 7]</tspan></text></g>
<g id="n81" class="n t" transform="translate(5950.6 1159.9)"><rect x="-234" y="-45.75" width="468" height="91.5"/><text><tspan x="0" y="-24.65">Difference in words lead and co-lead &lt;= 1783.0</tspan><tspan x="0" y="-4.55">entropy = 0.371</tspan><tspan x="0" y="15.55">samples = 14</tspan><tspan x="0" y="35.65">value = [1, 13]</tspan></text></g>
<g id="n82" class="n o" transform="translate(6359 1159.9)"><rect x="-147.4" y="-45.75" width="294.8" height="91.5"/><text><tspan x="0" y="-24.65">Mean Age Female &lt;= 44.833</tspan><tspan x="0" y="-4.55">entropy = 0.863</tspan><tspan x="0" y="15.55">samples = 7</tspan><tspan x="0" y="35.65">value = [5, 2]</tspan></text></g>
<g id="n83" class="n t" transform="translate(1040 1288.4)"><rect x="-74.8" y="-35.5" width="149.6" height="71"/><text><tspan x="0" y="-14.6">entropy = 0.0</tspan><tspan x="0" y="5.5">samples = 3</tspan><tspan x="0" y="25.6">value = [0, 3]</tspan></text></g>
<g id="n84" class="n o" transform="translate(1226 1288.4)"><rect x="-86.75" y="-35.5" width="173.5" height="71"/><text><tspan x="0" y="-14.6">entropy = 0.567</tspan><tspan x="0" y="5.5">samples = 15</tspan><tspan x="0" y="25.6">value = [13, 2]</tspan></text></g>
<g id="n85" class="n t" transform="translate(1448.5 1288.4)"><rect x="-86.7" y="-35.5" width="173.4" height="71"/><text><tspan x="0" y="-14.6">entropy = 0.391</tspan><tspan x="0" y="5.5">samples = 13</tspan><tspan x="0" y="25.6">value = [1, 12]</tspan></text></g>
<g id="n86" class="n o" transform="translate(1648 1288.4)"><rect x="-86.8" y="-35.5" width="173.6" height="71"/><text><tspan x="0" y="-14.6">entropy = 0.991</tspan><tspan x="0" y="5.5">samples = 9</tspan><tspan x="0" y="25.6">value = [5, 4]</tspan></text></g>
<g id="n87" class="n t" transform="translate(1847 1288.4)"><rect x="-74.75" y="-35.5" width="149.5" height="71"/><text><tspan x="0" y="-14.6">entropy = 0.0</tspan><tspan x="0" y="5.5">samples = 1</tspan><tspan x="0" y="25.6">value = [0, 1]</tspan></text></g>
<g id="n88" class="n o" transform="translate(2021 1288.4)"><rect x="-74.3" y="-35.5" width="148.6" height="71"/><text><tspan x="0" y="-14.6">entropy = 0.0</tspan><tspan x="0" y="5.5">samples = 1</tspan><tspan x="0" y="25.6">value = [1, 0]</tspan></text></g>
<g id="n89" class="n t" transform="translate(2641.5 1288.4)"><rect x="-74.4" y="-35.5" width="148.8" height="71"/><text><tspan x="0" y="-14.6">entropy = 0.0</tspan><tspan x="0" y="5.5">samples = 2</tspan><tspan x="0" y="25.6">value = [2, 0]</tspan></text></g>
<g id="n90" class="n o" transform="translate(2816 1288.4)"><rect x="-74.25" y="-35.5" width="148.5" height="71"/><text><tspan x="0" y="-14.6">entropy = 0.0</tspan><tspan x="0" y="5.5">samples = 2</tspan><tspan x="0" y="25.6">value = [0, 2]</tspan></text></g>
<g id="n91" class="n t" transform="translate(3029.7 1288.4)"><rect x="-86.15" y="-35.5" width="172.3" height="71"/><text><tspan x="0" y="-14.6">entropy = 0.764</tspan><tspan x="0" y="5.5">samples = 9</tspan><tspan x="0" y="25.6">value = [7, 2]</tspan></text></g>
<g id="n92" class="n o" transform="translate(3229.7 1288.4)"><rect x="-86.7" y="-35.5" width="173.4" height="71"/><text><tspan x="0" y="-14.6">entropy = 0.672</tspan><tspan x="0" y="5.5">samples = 17</tspan><tspan x="0" y="25.6">value = [3, 14]</tspan></text></g>
<g id="n93" class="n t" transform="translate(3449.6 1288.4)"><rect x="-86.75" y="-35.5" width="173.5" height="71"/><text><tspan x="0" y="-14.6">entropy = 0.918</tspan><tspan x="0" y="5.5">samples = 3</tspan><tspan x="0" y="25.6">value = [2, 1]</tspan></text></g>
<g id="n94" class="n o" transform="translate(3643 1288.4)"><rect x="-79.65" y="-35.5" width="159.3" height="71"/><text><tspan x="0" y="-14.6">entropy = 0.0</tspan><tspan x="0" y="5.5">samples = 13</tspan><tspan x="0" y="25.6">value = [0, 13]</tspan></text></g>
<g id="n95" class="n t" transform="translate(3848.6 1288.4)"><rect x="-86.7" y="-35.5" width="173.4" height="71"/><text><tspan x="0" y="-14.6">entropy = 0.881</tspan><tspan x="0" y="5.5">samples = 30</tspan><tspan x="0" y="25.6">value = [9, 21]</tspan></text></g>
<g id="n96" class="n o" transform="translate(4035 1288.4)"><rect x="-73.7" y="-35.5" width="147.4" height="71"/><text><tspan x="0" y="-14.6">entropy = 0.0</tspan><tspan x="0" y="5.5">samples = 4</tspan><tspan x="0" y="25.6">value = [4, 0]</tspan></text></g>
<g id="n97" class="n t" transform="translate(4221.5 1288.4)"><rect x="-80.25" y="-35.5" width="160.5" height="71"/><text><tspan x="0" y="-14.6">entropy = 0.0</tspan><tspan x="0" y="5.5">samples = 42</tspan><tspan x="0" y="25.6">value = [0, 42]</tspan></text></g>
<g id="n98" class="n o" transform="translate(4414.5 1288.4)"><rect x="-86.75" y="-35.5" width="173.5" height="71"/><text><tspan x="0" y="-14.6">entropy = 0.563</tspan><tspan x="0" y="5.5">samples = 91</tspan><tspan x="0" y="25.6">value = [12, 79]</tspan></text></g>
<g id="n99" class="n t" transform="translate(4611 1288.4)"><rect x="-80.2" y="-35.5" width="160.4" height="71"/><text><tspan x="0" y="-14.6">entropy = 0.65</tspan><tspan x="0" y="5.5">samples = 6</tspan><tspan x="0" y="25.6">value = [1, 5]</tspan></text></g>
<g id="n100" class="n o" transform="translate(4792 1288.4)"><rect x="-74.35" y="-35.5" width="148.7" height="71"/><text><tspan x="0" y="-14.6">entropy = 0.0</tspan><tspan x="0" y="5.5">samples = 2</tspan><tspan x="0" y="25.6">value = [2, 0]</tspan></text></g>
<g id="n101" class="n t" transform="translate(5187 1288.4)"><rect x="-87.2" y="-35.5" width="174.4" height="71"/><text><tspan x="0" y="-14.6">entropy = 0.997</tspan><tspan x="0" y="5.5">samples = 15</tspan><tspan x="0" y="25.6">value = [8, 7]</tspan></text></g>
<g id="n102" class="n o" transform="translate(5373 1288.4)"><rect x="-74.3" y="-35.5" width="148.6" height="71"/><text><tspan x="0" y="-14.6">entropy = 0.0</tspan><tspan x="0" y="5.5">samples = 9</tspan><tspan x="0" y="25.6">value = [9, 0]</tspan></text></g>
<g id="n103" class="n t" transform="translate(5552 1288.4)"><rect x="-74.25" y="-35.5" width="148.5" height="71"/><text><tspan x="0" y="-14.6">entropy = 0.0</tspan><tspan x="0" y="5.5">samples = 6</tspan><tspan x="0" y="25.6">value = [0, 6]</tspan></text></g>
<g id="n104" class="n o" transform="translate(5739 1288.4)"><rect x="-86.15" y="-35.5" width="172.3" height="71"/><text><tspan x="0" y="-14.6">entropy = 0.918</tspan><tspan x="0" y="5.5">samples = 3</tspan><tspan x="0" y="25.6">value = [2, 1]</tspan></text></g>
<g id="n105" class="n t" transform="translate(5926 1288.4)"><rect x="-73.8" y="-35.5" width="147.6" height="71"/><text><tspan x="0" y="-14.6">entropy = 1.0</tspan><tspan x="0" y="5.5">samples = 2</tspan><tspan x="0" y="25.6">value = [1, 1]</tspan></text></g>
<g id="n106" class="n o" transform="translate(6107 1288.4)"><rect x="-79.6" y="-35.5" width="159.2" height="71"/><text><tspan x="0" y="-14.6">entropy = 0.0</tspan><tspan x="0" y="5.5">samples = 12</tspan><tspan x="0" y="25.6">value = [0, 12]</tspan></text></g>
<g id="n107" class="n t" transform="translate(6318 1288.4)"><rect x="-86" y="-35.5" width="172" height="71"/><text><tspan x="0" y="-14.6">entropy = 0.918</tspan><tspan x="0" y="5.5">samples = 3</tspan><tspan x="0" y="25.6">value = [1, 2]</tspan></text></g>
<g id="n108" class="n o" transform="translate(6504 1288.4)"><rect x="-74.25" y="-35.5" width="148.5" height="71"/><text><tspan x="0" y="-14.6">entropy = 0.0</tspan><tspan x="0" y="5.5">samples = 4</tspan><tspan x="0" y="25.6">value = [4, 0]</tspan></text></g>
</g>
</svg>
